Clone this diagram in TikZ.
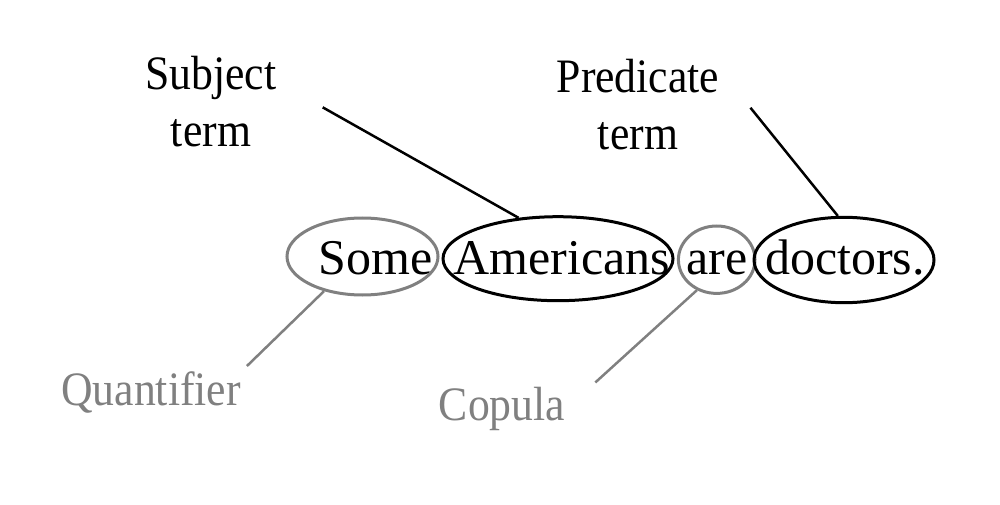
\documentclass[tikz,border=0pt]{standalone}
\usepackage{fontspec}
\setmainfont{Liberation Serif}
\newfontfamily\labelfont[FakeStretch=0.91]{Liberation Serif}
\usetikzlibrary{shapes.geometric, calc}

\begin{document}
\begin{tikzpicture}[
    x=1pt, y=1pt,
    every node/.style={inner sep=0pt},
    word/.style={font=\fontsize{50}{60}\selectfont, anchor=base west},
    term/.style={font=\labelfont\fontsize{48}{57.5}\selectfont, align=center, anchor=north},
    part/.style={font=\labelfont\fontsize{48}{57.5}\selectfont, text=gray, anchor=base},
    oval/.style={ellipse, draw, line width=3pt},
    grayoval/.style={oval, draw=gray},
    lead/.style={line width=2.5pt},
    graylead/.style={lead, draw=gray}
]
\useasboundingbox (0,0) rectangle (1000,504);

% the sentence
\node[word] (some) at (318.3,230) {Some};
\node[word] (amer) at (453.3,230) {Americans};
\node[word] (are) at (686,230) {are};
\node[word] (doc) at (765,230) {doctors.};

% rings round the words
\node[grayoval, minimum width=151, minimum height=77] (somering) at (362.5,247.5) {};
\node[oval, minimum width=230, minimum height=84] (amerring) at (558,245.3) {};
\node[grayoval, minimum width=76.6, minimum height=67.4] (arering) at (716.7,244.3) {};
\node[oval, minimum width=180, minimum height=85.4] (docring) at (844,244) {};

% labels
\node[term] (subj) at (211,448.5) {Subject\\term};
\node[term] (pred) at (638,445.1) {Predicate\\term};
\node[part] (quant) at (151,99) {Quantifier};
\node[part] (cop) at (502,84) {Copula};

\draw[lead] ([shift={(46,-6)}]subj.east) -- (amerring.134);
\draw[lead] ([shift={(31,-3)}]pred.east) -- (docring.98);
\draw[graylead] ([shift={(6,5)}]quant.north east) -- (somering.222);
\draw[graylead] ([shift={(30,4)}]cop.north east) -- (arering.237);

\end{tikzpicture}
\end{document}
